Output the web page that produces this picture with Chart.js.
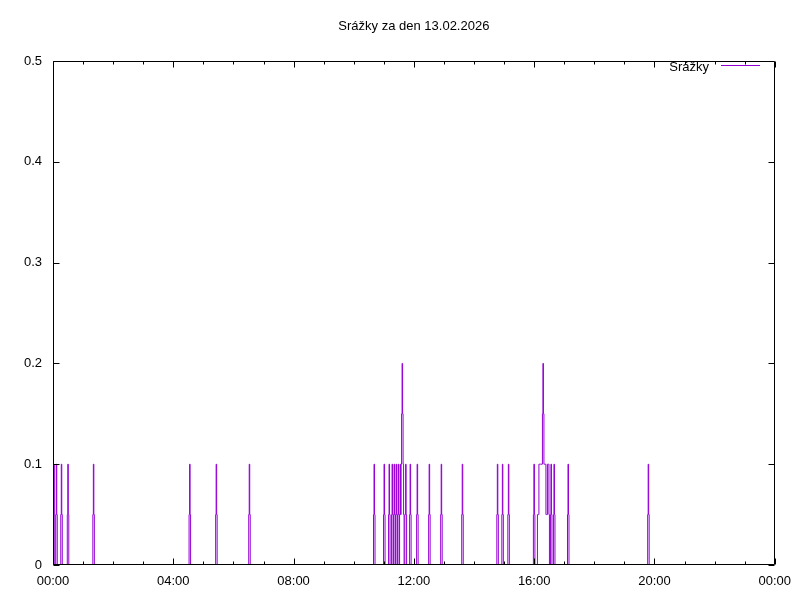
<!DOCTYPE html>
<html>
<head>
<meta charset="utf-8">
<script src="https://cdn.jsdelivr.net/npm/chart.js@4/dist/chart.umd.min.js"></script>
<style>
  html, body { margin: 0; background: #fff; }
  #obal { width: 800px; height: 600px; }
</style>
</head>
<body>
<div id="obal"><canvas id="graf"></canvas></div>
<script>
// srážky za den
const titulek = 'Srážky za den 13.02.2026';
const popisek = 'Srážky';
const xPopisky = ['00:00', '04:00', '08:00', '12:00', '16:00', '20:00', '00:00'];
const yHodnoty = [0, 0.1, 0.2, 0.3, 0.4, 0.5];

const casy = [
  '00:00', '00:01', '00:02', '00:03', '00:04',
  '00:05', '00:06', '00:07', '00:08', '00:09',
  '00:15', '00:16', '00:17', '00:18', '00:19',
  '00:28', '00:29', '00:30', '00:31', '00:32',
  '01:19', '01:20', '01:21', '01:22', '01:23',
  '04:31', '04:32', '04:33', '04:34', '04:35',
  '05:24', '05:25', '05:26', '05:27', '05:28',
  '06:30', '06:31', '06:32', '06:33', '06:34',
  '10:39', '10:40', '10:41', '10:42', '10:43',
  '10:59', '11:00', '11:01', '11:02', '11:03',
  '11:09', '11:10', '11:11', '11:12', '11:13',
  '11:15', '11:16', '11:17', '11:18', '11:19', '11:20', '11:21', '11:22', '11:23',
  '11:24', '11:25', '11:26', '11:27', '11:28', '11:29', '11:30', '11:31', '11:32',
  '11:33', '11:34', '11:35', '11:36', '11:37', '11:38', '11:39', '11:40', '11:41',
  '11:43', '11:44', '11:45', '11:46',
  '11:51', '11:52', '11:53', '11:54', '11:55',
  '12:05', '12:06', '12:07', '12:08', '12:09',
  '12:29', '12:30', '12:31', '12:32', '12:33',
  '12:53', '12:54', '12:55', '12:56', '12:57',
  '13:35', '13:36', '13:37', '13:38', '13:39',
  '14:45', '14:46', '14:47', '14:48', '14:49',
  '14:55', '14:56', '14:57', '14:58', '14:59',
  '15:07', '15:08', '15:09', '15:10', '15:11',
  '15:58', '15:59', '16:00', '16:01', '16:02',
  '16:06', '16:07', '16:09', '16:10', '16:16', '16:17', '16:18', '16:19',
  '16:20', '16:23', '16:24', '16:26', '16:27', '16:29', '16:30', '16:31',
  '16:32', '16:33', '16:34', '16:35', '16:36',
  '16:38', '16:39', '16:40', '16:41', '16:42',
  '17:06', '17:07', '17:08', '17:09', '17:10',
  '19:46', '19:47', '19:48', '19:49', '19:50'
];

const srazky = [
  0, 0.05, 0.1, 0.05, 0,
  0, 0.05, 0.1, 0.05, 0,
  0, 0.05, 0.1, 0.05, 0,
  0, 0.05, 0.1, 0.05, 0,
  0, 0.05, 0.1, 0.05, 0,
  0, 0.05, 0.1, 0.05, 0,
  0, 0.05, 0.1, 0.05, 0,
  0, 0.05, 0.1, 0.05, 0,
  0, 0.05, 0.1, 0.05, 0,
  0, 0.05, 0.1, 0.05, 0,
  0, 0.05, 0.1, 0.05, 0,
  0, 0.05, 0.1, 0.05, 0, 0.05, 0.1, 0.05, 0,
  0.05, 0.1, 0.05, 0, 0.05, 0.1, 0.05, 0, 0.05,
  0.1, 0.05, 0.1, 0.15, 0.2, 0.15, 0.1, 0.05, 0,
  0.05, 0.1, 0.05, 0,
  0, 0.05, 0.1, 0.05, 0,
  0, 0.05, 0.1, 0.05, 0,
  0, 0.05, 0.1, 0.05, 0,
  0, 0.05, 0.1, 0.05, 0,
  0, 0.05, 0.1, 0.05, 0,
  0, 0.05, 0.1, 0.05, 0,
  0, 0.05, 0.1, 0.05, 0,
  0, 0.05, 0.1, 0.05, 0,
  0, 0.05, 0.1, 0.05, 0,
  0, 0.05, 0.05, 0.1, 0.1, 0.15, 0.2, 0.15,
  0.1, 0.1, 0.05, 0.05, 0.1, 0.1, 0.05, 0,
  0, 0.05, 0.1, 0.05, 0,
  0, 0.05, 0.1, 0.05, 0,
  0, 0.05, 0.1, 0.05, 0,
  0, 0.05, 0.1, 0.05, 0
];

const BARVA = '#9400d3';
const PISMO = '"Liberation Sans", Arial, sans-serif';

function naMinuty(cas) {
  const [h, m] = cas.split(':').map(Number);
  return h * 60 + m;
}

// rámeček a ticky dovnitř (gnuplot styl) + legenda
const ramecek = {
  id: 'ramecek',
  afterDatasetsDraw(chart) {
    const { ctx, chartArea: a, scales: { x, y } } = chart;
    const L = Math.round(a.left) + 0.5;
    const R = Math.round(a.right) - 0.5;
    const T = Math.round(a.top) + 0.5;
    const B = Math.round(a.bottom) - 0.5;
    ctx.save();
    ctx.strokeStyle = '#000';
    ctx.lineWidth = 1;
    ctx.beginPath();
    ctx.rect(L, T, R - L, B - T);
    for (let m = 0; m <= 1440; m += 60) {
      const px = Math.round(x.getPixelForValue(m)) + 0.5;
      const d = m % 240 === 0 ? 6 : 3;
      ctx.moveTo(px, B); ctx.lineTo(px, B - d);
      ctx.moveTo(px, T); ctx.lineTo(px, T + d);
    }
    y.ticks.forEach(t => {
      const py = Math.round(y.getPixelForValue(t.value)) + 0.5;
      ctx.moveTo(L, py); ctx.lineTo(L + 6, py);
      ctx.moveTo(R, py); ctx.lineTo(R - 6, py);
    });
    ctx.stroke();

    // legenda: text vpravo zarovnaný, za ním vzorek čáry
    const ds = chart.data.datasets[0];
    ctx.fillStyle = '#000';
    ctx.font = '13px ' + PISMO;
    ctx.textAlign = 'right';
    ctx.textBaseline = 'middle';
    ctx.fillText(ds.label, 709, 67);
    ctx.fillStyle = BARVA;
    ctx.fillRect(721, 65, 39, 1);
    ctx.restore();
  }
};

new Chart(document.getElementById('graf'), {
  type: 'line',
  data: {
    datasets: [{
      label: popisek,
      data: casy.map((c, i) => ({ x: naMinuty(c), y: srazky[i] })),
      borderColor: BARVA,
      borderWidth: 1,
      pointRadius: 0,
      stepped: 'middle',
      fill: false
    }]
  },
  options: {
    responsive: true,
    maintainAspectRatio: false,
    animation: false,
    layout: { padding: { left: 0, right: 25, top: 0, bottom: 0 } },
    plugins: {
      legend: { display: false },
      tooltip: { enabled: false },
      title: {
        display: true,
        text: titulek,
        fullSize: false,
        color: '#000',
        font: { family: PISMO, size: 13, weight: 'normal' },
        padding: { top: 19, bottom: 26.4 }
      }
    },
    scales: {
      x: {
        type: 'linear',
        min: 0,
        max: 1440,
        afterFit(s) { s.height = 35; },
        grid: { display: false, drawTicks: false },
        border: { display: false },
        ticks: {
          stepSize: 240,
          autoSkip: false,
          maxRotation: 0,
          padding: 9,
          color: '#000',
          font: { family: PISMO, size: 13 },
          callback: v => xPopisky[v / 240]
        }
      },
      y: {
        min: yHodnoty[0],
        max: yHodnoty[yHodnoty.length - 1],
        afterFit(s) { s.width = 53; },
        grid: { display: false, drawTicks: false },
        border: { display: false },
        ticks: {
          stepSize: 0.1,
          padding: 11,
          color: '#000',
          font: { family: PISMO, size: 13 },
          callback: v => v === 0 ? '0' : v.toFixed(1)
        }
      }
    }
  },
  plugins: [ramecek]
});
</script>
</body>
</html>
